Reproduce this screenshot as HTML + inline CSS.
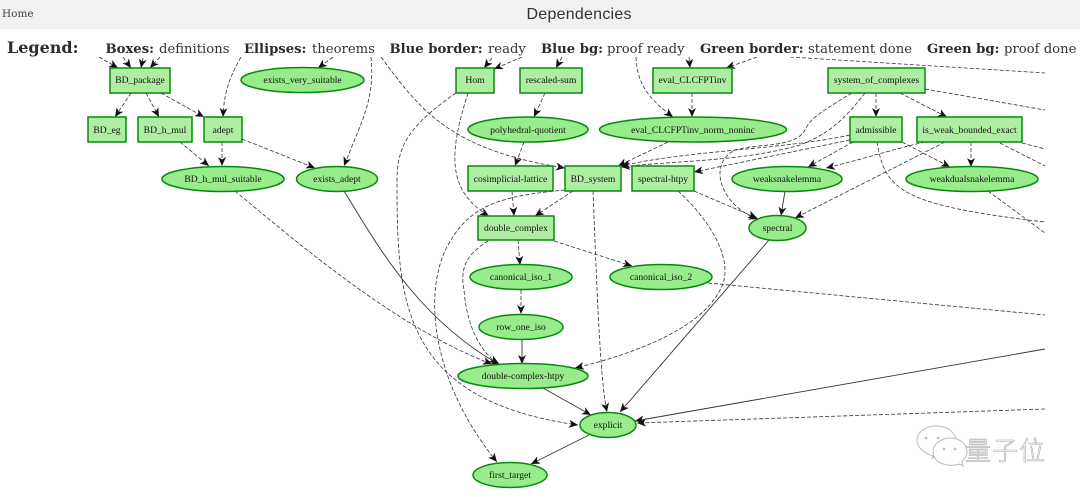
<!DOCTYPE html>
<html><head><meta charset="utf-8"><style>
html,body{margin:0;padding:0;background:#fff}
body{width:1080px;height:497px;overflow:hidden;position:relative}
svg{position:absolute;left:0;top:0;filter:blur(.35px)}
.e path,.e line{fill:none;stroke:#333;stroke-width:.8;stroke-dasharray:4 2;marker-end:url(#a)}
.s path{fill:none;stroke:#333;stroke-width:.9;marker-end:url(#a)}
.o path{fill:none;stroke:#333;stroke-width:.8;stroke-dasharray:4 2}
.b rect{fill:#aeeea2;stroke:#078a0c;stroke-width:1.5}
.n ellipse{fill:#99ec8b;stroke:#078a0c;stroke-width:1.5}
.t text{font-family:"Liberation Serif",serif;font-size:9.6px;fill:#111;text-anchor:middle}
.l text{font-family:"DejaVu Serif",serif;font-size:13.2px;fill:#333}
.l .h{font-weight:bold;fill:#2b2b2b}
</style></head><body>
<svg width="1080" height="497" viewBox="0 0 1080 497">
<defs><marker id="a" markerUnits="userSpaceOnUse" markerWidth="12" markerHeight="10" refX="9" refY="4" orient="auto"><path d="M0,0 L9,4 L0,8 L2.500,4 Z" fill="#111" stroke="none"/></marker></defs>
<rect x="0" y="0" width="1080" height="29" fill="#f1f1f1"/>
<text x="2" y="17" font-family="DejaVu Serif,serif" font-size="10.500" fill="#444">Home</text>
<text x="579" y="19" font-family="Liberation Sans,sans-serif" font-size="16" fill="#333" text-anchor="middle" textLength="105">Dependencies</text>

<g class="e">
<path d="M99,57L118,68"/><path d="M123,57L131,68"/><path d="M143,58L141,68"/><path d="M160,57L150,68"/>
<path d="M241,57C225,85 224,100 223,117"/>
<path d="M333,57L318,68"/>
<path d="M371,57C375,100 362,120 344,166"/>
<path d="M381,57C420,110 450,150 565,168"/>
<path d="M492,58L484,68"/><path d="M522,57L494,69"/><path d="M562,57L556,68"/>
<path d="M636,57C637,85 650,100 673,117"/>
<path d="M689,57L690,68"/><path d="M757,57L726,68"/>
<path d="M131,93L115,117"/><path d="M146,93L159,117"/><path d="M161,93L204,117"/>
<path d="M180,142L209,166"/><path d="M222,142L222,166"/><path d="M242,139L315,168"/>
<path d="M545,93L534,117"/><path d="M692,93L692,117"/>
<path d="M524,142L515,166"/><path d="M668,142L618,166"/>
<path d="M512,191L514,216"/><path d="M573,191L535,216"/>
<path d="M468,93C450,150 445,190 489,216"/>
<path d="M456,93C410,125 397,145 397,180C397,300 400,400 578,425"/>
<path d="M565,190C500,196 470,205 448,245C423,290 430,380 497,462"/>
<path d="M488,241C465,255 460,270 464,290C468,340 490,358 498,364"/>
<path d="M518,240L520,265"/><path d="M554,241L632,266"/>
<path d="M521,290L521,314"/>
<path d="M593,191C597,290 600,380 607,412"/>
<path d="M678,191C715,225 735,265 720,290C700,330 630,355 575,368"/>
<path d="M694,191L757,218"/>
<path d="M876,93L876,117"/><path d="M900,93L947,117"/>
<path d="M852,93C815,115 810,120 805,130C795,148 760,143 735,150C715,160 715,185 735,205C745,214 750,216 758,219"/>
<path d="M865,93C840,125 825,135 800,145C740,162 680,160 621,167"/>
<path d="M850,135C780,150 690,150 621,166"/>
<path d="M850,140L694,172"/>
<path d="M853,142L808,167"/><path d="M902,142L950,167"/>
<path d="M925,142C890,150 860,160 826,168"/><path d="M945,142L795,218"/>
<path d="M971,142L971,167"/>
<path d="M235,191C300,245 400,330 492,364"/>
<path d="M1045,409L637,423"/>
</g>
<g class="s">
<path d="M344,191C380,250 420,320 500,365"/>
<path d="M522,340L522,364"/>
<path d="M543,388L591,415"/>
<path d="M589,435L531,464"/>
<path d="M785,191L781,216"/>
<path d="M769,240L620,412"/>
<path d="M1045,349L635,421"/>
</g>
<g class="o">
<path d="M790,57L1045,73"/><path d="M925,89L1045,110"/>
<path d="M877,142C885,190 900,205 1045,222"/>
<path d="M1022,143L1045,149"/><path d="M1000,143L1045,166"/>
<path d="M988,191L1045,233"/>
<path d="M708,283L1045,315"/>
</g>

<g class="b">
<rect x="110" y="68" width="60" height="25"/>
<rect x="88" y="117" width="38" height="25"/>
<rect x="138" y="117" width="54" height="25"/>
<rect x="204" y="117" width="38" height="25"/>
<rect x="456" y="68" width="38" height="25"/>
<rect x="520" y="68" width="62" height="25"/>
<rect x="653" y="68" width="79" height="25"/>
<rect x="828" y="68" width="97" height="25"/>
<rect x="850" y="117" width="52" height="25"/>
<rect x="917" y="117" width="105" height="25"/>
<rect x="468" y="166" width="85" height="25"/>
<rect x="565" y="166" width="56" height="25"/>
<rect x="632" y="166" width="62" height="25"/>
<rect x="478" y="216" width="76" height="24"/>
</g>
<g class="n">
<ellipse cx="302.500" cy="80" rx="61.500" ry="12.500"/>
<ellipse cx="223" cy="179" rx="61" ry="12.500"/>
<ellipse cx="337" cy="179" rx="40.500" ry="12.500"/>
<ellipse cx="528" cy="129.500" rx="60" ry="12.500"/>
<ellipse cx="693" cy="129.500" rx="93.500" ry="12.500"/>
<ellipse cx="787" cy="179" rx="55" ry="12.500"/>
<ellipse cx="972" cy="179" rx="66" ry="12.500"/>
<ellipse cx="777.500" cy="228" rx="28.500" ry="12.500"/>
<ellipse cx="521" cy="277" rx="51" ry="12.500"/>
<ellipse cx="661" cy="277" rx="51" ry="12.500"/>
<ellipse cx="521" cy="327" rx="42" ry="12.500"/>
<ellipse cx="523" cy="376" rx="65" ry="12.500"/>
<ellipse cx="608" cy="425" rx="28" ry="12.500"/>
<ellipse cx="510" cy="475" rx="37" ry="12.500"/>
</g>
<g class="t">
<text x="140" y="83">BD_package</text>
<text x="107" y="133">BD_eg</text>
<text x="165" y="133">BD_h_mul</text>
<text x="223" y="133">adept</text>
<text x="302.500" y="83">exists_very_suitable</text>
<text x="223" y="182">BD_h_mul_suitable</text>
<text x="337" y="182">exists_adept</text>
<text x="475" y="83">Hom</text>
<text x="551" y="83">rescaled-sum</text>
<text x="692.500" y="83">eval_CLCFPTinv</text>
<text x="876.500" y="83">system_of_complexes</text>
<text x="528" y="133">polyhedral-quotient</text>
<text x="693" y="133">eval_CLCFPTinv_norm_noninc</text>
<text x="876" y="133">admissible</text>
<text x="969.500" y="133">is_weak_bounded_exact</text>
<text x="510.500" y="182">cosimplicial-lattice</text>
<text x="593" y="182">BD_system</text>
<text x="663" y="182">spectral-htpy</text>
<text x="787" y="182">weaksnakelemma</text>
<text x="972" y="182">weakdualsnakelemma</text>
<text x="777.500" y="231">spectral</text>
<text x="516" y="231">double_complex</text>
<text x="521" y="280">canonical_iso_1</text>
<text x="661" y="280">canonical_iso_2</text>
<text x="521" y="330">row_one_iso</text>
<text x="523" y="379">double-complex-htpy</text>
<text x="608" y="428">explicit</text>
<text x="510" y="478">first_target</text>
</g>

<rect x="1045" y="29" width="35" height="400" fill="#fff"/>
<rect x="0" y="29" width="1080" height="28" fill="#fff"/>
<g class="l">
<text x="7" y="53" class="h" style="font-size:16px">Legend:</text>
<text x="105.500" y="53" class="h">Boxes:</text><text x="159" y="53">definitions</text>
<text x="244" y="53" class="h">Ellipses:</text><text x="312" y="53">theorems</text>
<text x="389.500" y="53" class="h">Blue border:</text><text x="488" y="53">ready</text>
<text x="541" y="53" class="h">Blue bg:</text><text x="607" y="53">proof ready</text>
<text x="700" y="53" class="h">Green border:</text><text x="808" y="53">statement done</text>
<text x="927" y="53" class="h">Green bg:</text><text x="1004" y="53">proof done</text>
</g>

<g fill="#fff" stroke="#bbb" stroke-width="1">
<path d="M933,456C923,453 917,447 917,440C917,432 926,426 936,426C946,426 954,431 956,439C945,438 934,446 938,454L932,458Z"/>
<path d="M960,464C950,467 934,465 933,452C933,444 941,438 950,438C960,438 967,444 967,452C967,456 965,459 962,461L963,466Z"/>
</g>
<g fill="#bbb"><circle cx="926" cy="438" r="1.300"/><circle cx="938" cy="438" r="1.300"/><circle cx="944" cy="449" r="1.300"/><circle cx="955" cy="449" r="1.300"/></g>
<text x="965" y="460" font-family="Noto Sans CJK SC,sans-serif" font-size="26" font-weight="300" fill="#fff" stroke="#aaa" stroke-width=".6" textLength="80">量子位</text>
</svg>
</body></html>
